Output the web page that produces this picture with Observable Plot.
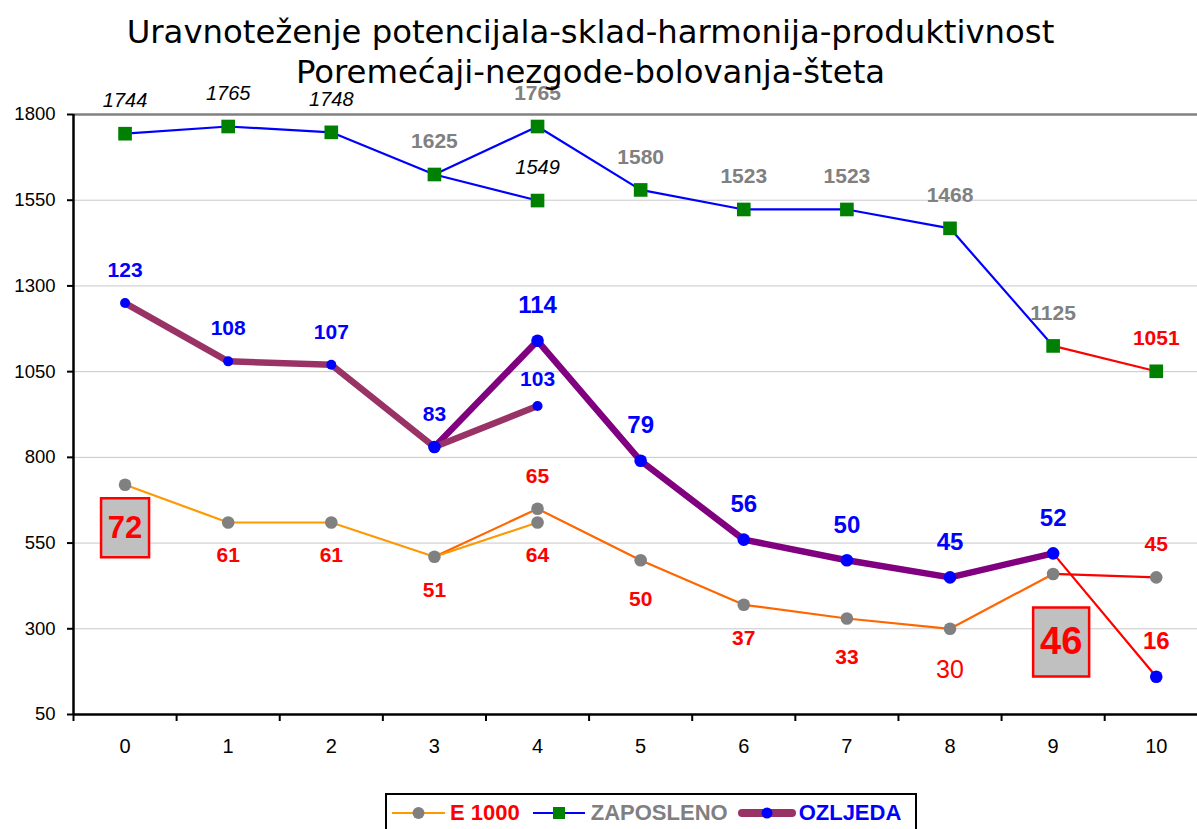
<!DOCTYPE html>
<html><head><meta charset="utf-8">
<script src="https://cdn.jsdelivr.net/npm/d3@7"></script>
<script src="https://cdn.jsdelivr.net/npm/@observablehq/plot@0.6"></script>
<style>
body{margin:0;background:#fff;}
#wrap{position:relative;width:1197px;height:829px;overflow:hidden;font-family:"Liberation Sans",Arial,sans-serif;}
#chart{position:absolute;left:0;top:0;}
#legend{position:absolute;left:385px;top:793px;width:523px;height:36px;border:2px solid #000;background:#fff;display:flex;align-items:center;padding-left:5px;box-sizing:content-box;}
#legend .t{font-size:22px;font-weight:bold;line-height:22px;white-space:nowrap;}
#legend svg{display:block;}
</style></head><body><div id="wrap"><div id="chart"></div><div id="legend"></div></div>
<script>
// ---------------- data ----------------
const xs = [0,1,2,3,4,5,6,7,8,9,10];
const zaposleno = [1744,1765,1748,1625,1765,1580,1523,1523,1468,1125,1051];
const e1000     = [720,610,610,510,650,500,370,330,300,460,450];
const ozljeda   = [1250,1080,1070,830,1140,790,560,500,450,520,160];
// alternative 3 -> 4 branches
const branchX = [3,4];
const zaposlenoBranch = [1625,1549];
const e1000Branch     = [510,610];
const ozljedaBranch   = [830,950];
// point labels
const zaposlenoLabels = ["1744","1765","1748","1625","1765","1580","1523","1523","1468","1125","1051"];
const zaposlenoBranchLabel = "1549";
const e1000Labels = ["72","61","61","51","65","50","37","33","30","46","45"];
const e1000BranchLabel = "64";
const ozljedaLabels = ["123","108","107","83","114","79","56","50","45","52","16"];
const ozljedaBranchLabel = "103";
const yTicks = [50,300,550,800,1050,1300,1550,1800];
const xBoundaries = [-0.5,0.5,1.5,2.5,3.5,4.5,5.5,6.5,7.5,8.5,9.5];
const titleLines = ["Uravnoteženje potencijala-sklad-harmonija-produktivnost","Poremećaji-nezgode-bolovanja-šteta"];
const seriesNames = ["E 1000","ZAPOSLENO","OZLJEDA"];

// ---------------- styles ----------------
const C = {blue:"#0000ff", red:"#ff0000", green:"#008000", gray:"#808080", orL:"#ff9900", orD:"#ff6600", mauve:"#993366", purple:"#800080"};
const zapLabelStyle = ["it","it","it","gray","gray","gray","gray","gray","gray","gray","redUp"];
const e1000LabelStyle = ["box","below","below","below","redUp","belowFar","below","belowFar","thin","bigBox","redUp"];
const ozlLabelStyle = ["blue","blue","blue","blue","blueBig","blueBig","blueBig","blueBig","blueBig","blueBig","redBig"];
const STY = {
  it:       {fill:"#000", fontSize:20, fontStyle:"italic", fontWeight:"normal", dy:-33},
  gray:     {fill:C.gray, fontSize:21, fontWeight:"bold", dy:-33},
  redUp:    {fill:C.red, fontSize:21, fontWeight:"bold", dy:-33},
  blue:     {fill:C.blue, fontSize:21, fontWeight:"bold", dy:-33},
  blueBr:   {fill:C.blue, fontSize:21, fontWeight:"bold", dy:-27},
  blueBig:  {fill:C.blue, fontSize:24, fontWeight:"bold", dy:-35},
  redBig:   {fill:C.red, fontSize:24, fontWeight:"bold", dy:-35},
  below:    {fill:C.red, fontSize:21, fontWeight:"bold", dy:33},
  belowFar: {fill:C.red, fontSize:21, fontWeight:"bold", dy:39},
  thin:     {fill:C.red, fontSize:25, fontWeight:"normal", dy:41},
  box:      {fill:C.red, fontSize:31, fontWeight:"bold", dy:43, box:[48,59]},
  bigBox:   {fill:C.red, fontSize:38, fontWeight:"bold", dy:68, dx:8, box:[56,69]}
};

// ---------------- build tables ----------------
const segs = (vals, colorOf) => vals.slice(0,-1).map((v,i)=>({x1:xs[i], y1:v, x2:xs[i+1], y2:vals[i+1], c:colorOf(i)}));
const branchSeg = (vals, c) => [{x1:branchX[0], y1:vals[0], x2:branchX[1], y2:vals[1], c}];
const pts = vals => xs.map((x,i)=>({x, y:vals[i], i}));

const zapSegs = segs(zaposleno, i => i < 9 ? C.blue : C.red).concat(branchSeg(zaposlenoBranch, C.blue));
const eSegs = segs(e1000, i => i < 3 ? C.orL : i < 9 ? C.orD : C.red).concat(branchSeg(e1000Branch, C.orL));
const ozlAll = segs(ozljeda, i => i < 3 ? C.mauve : i < 9 ? C.purple : C.red).concat(branchSeg(ozljedaBranch, C.mauve));
const ozlThick = ozlAll.filter(d => d.c !== C.red);
const ozlThin = ozlAll.filter(d => d.c === C.red);

const zapPts = pts(zaposleno).concat([{x:branchX[1], y:zaposlenoBranch[1]}]);
const ePts = pts(e1000).concat([{x:branchX[1], y:e1000Branch[1]}]);
const ozlPts = pts(ozljeda);
const ozlSmall = ozlPts.filter(d => d.i < 3).concat([{x:branchX[1], y:ozljedaBranch[1]}]);
const ozlBig = ozlPts.filter(d => d.i >= 3);

const labels = [];
xs.forEach((x,i) => {
  labels.push({x, y:zaposleno[i], text:zaposlenoLabels[i], s:zapLabelStyle[i]});
  labels.push({x, y:e1000[i], text:e1000Labels[i], s:e1000LabelStyle[i]});
  labels.push({x, y:ozljeda[i], text:ozljedaLabels[i], s:ozlLabelStyle[i]});
});
labels.push({x:branchX[1], y:zaposlenoBranch[1], text:zaposlenoBranchLabel, s:"it"});
labels.push({x:branchX[1], y:e1000Branch[1], text:e1000BranchLabel, s:"below"});
labels.push({x:branchX[1], y:ozljedaBranch[1], text:ozljedaBranchLabel, s:"blueBr"});

const rectSymbol = (w,h) => ({draw(ctx){ ctx.moveTo(-w/2,-h/2); ctx.lineTo(w/2,-h/2); ctx.lineTo(w/2,h/2); ctx.lineTo(-w/2,h/2); ctx.closePath(); }});

const link = (data, width) => Plot.link(data, {x1:"x1", y1:"y1", x2:"x2", y2:"y2", stroke:"c", strokeWidth:width, strokeLinecap:"round", strokeLinejoin:"round"});

const marks = [
  Plot.ruleY(yTicks.slice(1,-1), {stroke:"#c8c8c8", strokeWidth:1}),
  Plot.ruleY([yTicks[yTicks.length-1]], {stroke:"#808080", strokeWidth:2.5}),
  Plot.axisY({ticks:yTicks, tickSize:6, tickPadding:12, fontSize:18.5, tickFormat:d => String(d), stroke:"#000", strokeWidth:2}),
  Plot.axisX({ticks:xBoundaries, tickSize:7, tickFormat:() => "", stroke:"#000", strokeWidth:2}),
  Plot.axisX({ticks:xs, tickSize:0, tickPadding:24, fontSize:20}),
  Plot.ruleY([yTicks[0]], {stroke:"#000", strokeWidth:2.5}),
  Plot.ruleX([xBoundaries[0]], {stroke:"#000", strokeWidth:2.5}),
  link(zapSegs, 2.2),
  Plot.dot(zapPts, {x:"x", y:"y", symbol:"square", r:7.7, fill:C.green}),
  link(eSegs, 2.2),
  Plot.dot(ePts, {x:"x", y:"y", r:6.3, fill:C.gray}),
  link(ozlThick, 6.5),
  link(ozlThin, 2.2),
  Plot.dot(ozlSmall, {x:"x", y:"y", r:5, fill:C.blue}),
  Plot.dot(ozlBig, {x:"x", y:"y", r:6.3, fill:C.blue}),
  ...Object.entries(STY).filter(([k,s]) => s.box).map(([k,s]) =>
    Plot.dot(labels.filter(d => d.s === k), {x:"x", y:"y", symbol:rectSymbol(s.box[0], s.box[1]), r:5, fill:"#c0c0c0", stroke:C.red, strokeWidth:2.5, dx:s.dx||0, dy:s.dy})),
  ...Object.entries(STY).map(([k,s]) =>
    Plot.text(labels.filter(d => d.s === k), {x:"x", y:"y", text:"text", fill:s.fill, fontSize:s.fontSize, fontWeight:s.fontWeight, fontStyle:s.fontStyle||"normal", dx:s.dx||0, dy:s.dy})),
  Plot.text([titleLines[0]], {frameAnchor:"top", lineAnchor:"bottom", dx:-45, dy:-72, fontSize:32.3, fontFamily:"DejaVu Sans", fill:"#000"}),
  Plot.text([titleLines[1]], {frameAnchor:"top", lineAnchor:"bottom", dx:-45, dy:-32, fontSize:32.3, fontFamily:"DejaVu Sans", fill:"#000"})
];

const chart = Plot.plot({
  width:1197, height:760,
  marginTop:114, marginBottom:46, marginLeft:73, marginRight:0,
  style:{fontFamily:"'Liberation Sans', Arial, sans-serif", background:"#fff", overflow:"visible", color:"#000"},
  x:{type:"linear", domain:[-0.5,10.4]},
  y:{type:"linear", domain:[yTicks[0], yTicks[yTicks.length-1]]},
  color:{type:"identity"},
  marks
});
document.getElementById("chart").appendChild(chart);

// ---------------- legend ----------------
const legend = document.getElementById("legend");
const icons = [
  `<svg width="53" height="20"><line x1="0" y1="10" x2="53" y2="10" stroke="${C.orL}" stroke-width="2.2"/><circle cx="26.5" cy="10" r="6" fill="${C.gray}"/></svg>`,
  `<svg width="52" height="20"><line x1="0" y1="10" x2="52" y2="10" stroke="${C.blue}" stroke-width="2.2"/><rect x="20" y="4" width="12" height="12" fill="${C.green}"/></svg>`,
  `<svg width="58" height="20"><line x1="4" y1="10" x2="54" y2="10" stroke="${C.mauve}" stroke-width="8" stroke-linecap="round"/><circle cx="29" cy="10" r="5.5" fill="${C.blue}"/></svg>`
];
const textColors = [C.red, C.gray, C.blue];
const gaps = [[0,5],[13,6],[10,3]];
seriesNames.forEach((name,i) => {
  const ic = document.createElement("div");
  ic.innerHTML = icons[i];
  ic.style.marginLeft = gaps[i][0] + "px";
  legend.appendChild(ic);
  const t = document.createElement("div");
  t.className = "t";
  t.textContent = name;
  t.style.color = textColors[i];
  t.style.marginLeft = gaps[i][1] + "px";
  legend.appendChild(t);
});
</script></body></html>
